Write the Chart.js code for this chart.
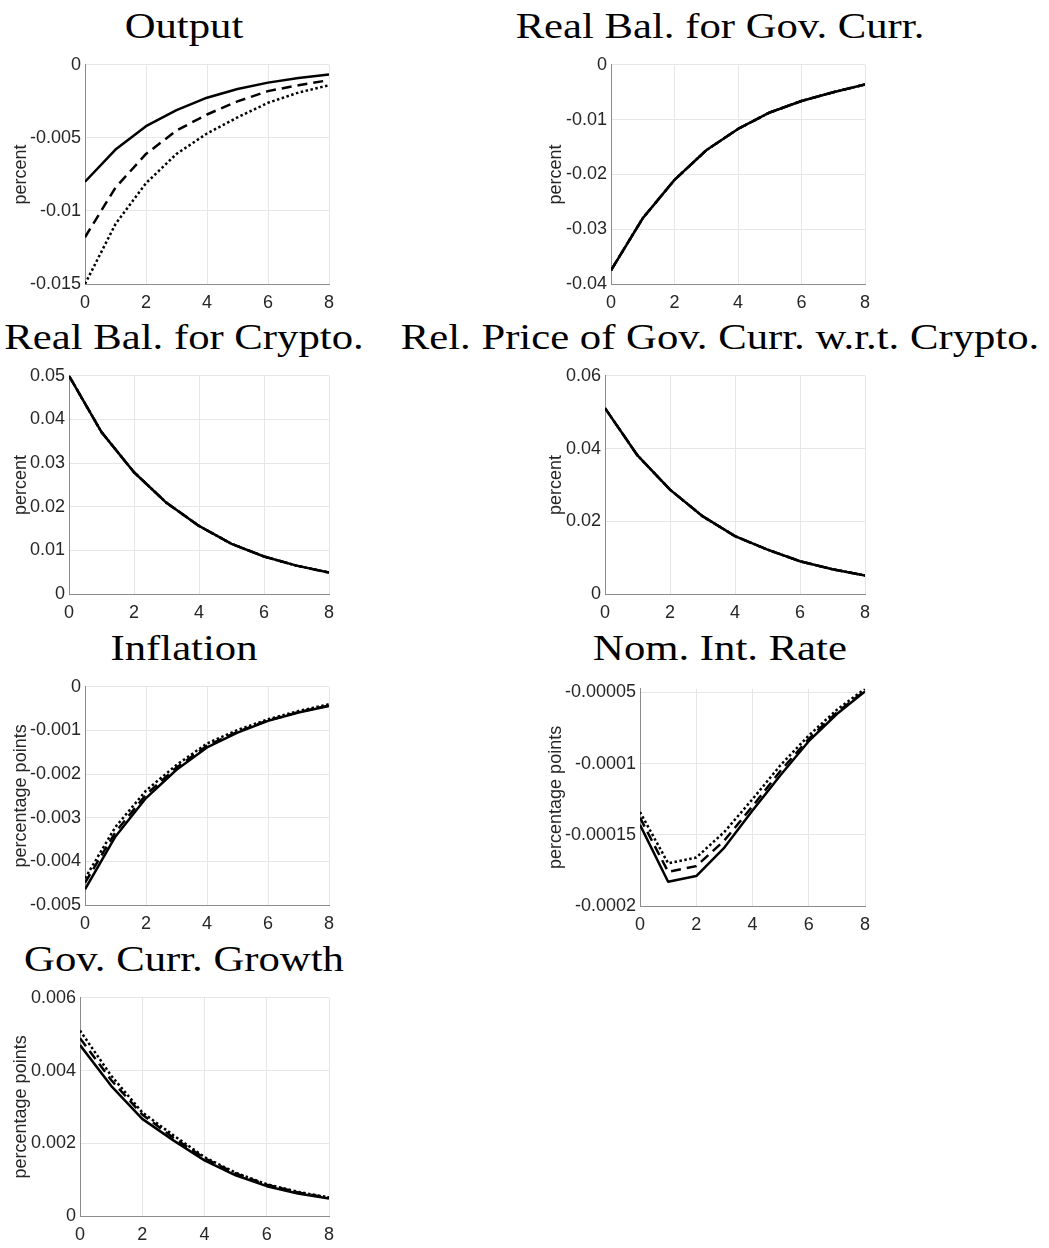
<!DOCTYPE html>
<html>
<head>
<meta charset="utf-8">
<script src="https://cdn.jsdelivr.net/npm/chart.js"></script>
<style>
body { margin: 0; background: #fff; }
#fig { position: relative; width: 1049px; height: 1248px; background: #fff; overflow: hidden; }
.ttl { position: absolute; width: 700px; text-align: center; font-family: 'Liberation Serif', serif;
       font-size: 35px; line-height: 35px; color: #000; white-space: nowrap; transform: scaleX(1.22); }
canvas { position: absolute; }
</style>
</head>
<body>
<div id="fig"></div>
<script>
// periodos despues del choque
var periods = [0, 1, 2, 3, 4, 5, 6, 7, 8];
var xTicks = [0, 2, 4, 6, 8];

// Output
var outputSolid  = [-0.0080, -0.0058, -0.0042, -0.0031, -0.00225, -0.00166, -0.00122, -0.0009, -0.00066];
var outputDashed = [-0.0118, -0.0084, -0.0061, -0.0045, -0.0034, -0.0025, -0.0018, -0.0014, -0.00105];
var outputDotted = [-0.0150, -0.0109, -0.0081, -0.0061, -0.0047, -0.0036, -0.0026, -0.0019, -0.0014];
var outputTicks  = [-0.015, -0.01, -0.005, 0];

// Real Bal. for Gov. Curr. (las tres lineas coinciden)
var realGovSolid  = [-0.0375, -0.0280, -0.0210, -0.0156, -0.0117, -0.0087, -0.0066, -0.0050, -0.0036];
var realGovDashed = [-0.0375, -0.0280, -0.0210, -0.0156, -0.0117, -0.0087, -0.0066, -0.0050, -0.0036];
var realGovDotted = [-0.0375, -0.0280, -0.0210, -0.0156, -0.0117, -0.0087, -0.0066, -0.0050, -0.0036];
var realGovTicks  = [-0.04, -0.03, -0.02, -0.01, 0];

// Real Bal. for Crypto.
var cryptoSolid  = [0.0500, 0.0371, 0.0279, 0.0209, 0.0156, 0.0115, 0.0086, 0.0065, 0.0049];
var cryptoDashed = [0.0500, 0.0371, 0.0279, 0.0209, 0.0156, 0.0115, 0.0086, 0.0065, 0.0049];
var cryptoDotted = [0.0500, 0.0371, 0.0279, 0.0209, 0.0156, 0.0115, 0.0086, 0.0065, 0.0049];
var cryptoTicks  = [0, 0.01, 0.02, 0.03, 0.04, 0.05];

// Rel. Price of Gov. Curr. w.r.t. Crypto.
var relPriceSolid  = [0.0511, 0.0381, 0.0287, 0.0214, 0.0159, 0.0122, 0.0090, 0.0068, 0.0051];
var relPriceDashed = [0.0511, 0.0381, 0.0287, 0.0214, 0.0159, 0.0122, 0.0090, 0.0068, 0.0051];
var relPriceDotted = [0.0511, 0.0381, 0.0287, 0.0214, 0.0159, 0.0122, 0.0090, 0.0068, 0.0051];
var relPriceTicks  = [0, 0.02, 0.04, 0.06];

// Inflation
var inflSolid  = [-0.00464, -0.00343, -0.00255, -0.00190, -0.00139, -0.00105, -0.00078, -0.00059, -0.00044];
var inflDashed = [-0.00449, -0.00333, -0.00247, -0.00185, -0.00135, -0.00103, -0.00077, -0.00058, -0.00043];
var inflDotted = [-0.00439, -0.00321, -0.00238, -0.00179, -0.00130, -0.00099, -0.000745, -0.000555, -0.00040];
var inflTicks  = [-0.005, -0.004, -0.003, -0.002, -0.001, 0];

// Nom. Int. Rate
var nomSolid  = [-0.000143, -0.000183, -0.000179, -0.000159, -0.000133, -0.000108, -0.0000843, -0.0000652, -0.0000493];
var nomDashed = [-0.000138, -0.000176, -0.000172, -0.000154, -0.000130, -0.000105, -0.0000826, -0.0000640, -0.0000488];
var nomDotted = [-0.000134, -0.000170, -0.000166, -0.000148, -0.000125, -0.000101, -0.0000803, -0.0000622, -0.0000475];
var nomTicks  = [-0.0002, -0.00015, -0.0001, -0.00005];
var nomRange  = [-0.0002, -0.0000475];

// Gov. Curr. Growth
var growthSolid  = [0.00470, 0.00358, 0.00267, 0.00208, 0.00153, 0.00112, 0.00082, 0.00062, 0.00048];
var growthDashed = [0.00489, 0.00374, 0.00279, 0.00215, 0.00159, 0.00117, 0.00086, 0.00065, 0.00050];
var growthDotted = [0.00510, 0.00386, 0.00285, 0.00222, 0.00162, 0.00119, 0.000875, 0.000665, 0.00051];
var growthTicks  = [0, 0.002, 0.004, 0.006];

// paneles: titulo, etiqueta, series, ticks, caja del grafico (px)
var panels = [
  {title: 'Output', ylab: 'percent', s: [outputSolid, outputDashed, outputDotted], ticks: outputTicks, col: 0, box: [85, 329, 64, 284]},
  {title: 'Real Bal. for Gov. Curr.', ylab: 'percent', s: [realGovSolid, realGovDashed, realGovDotted], ticks: realGovTicks, col: 1, box: [611, 865, 64, 284]},
  {title: 'Real Bal. for Crypto.', ylab: 'percent', s: [cryptoSolid, cryptoDashed, cryptoDotted], ticks: cryptoTicks, col: 0, box: [69, 329, 375, 594]},
  {title: 'Rel. Price of Gov. Curr. w.r.t. Crypto.', ylab: 'percent', s: [relPriceSolid, relPriceDashed, relPriceDotted], ticks: relPriceTicks, col: 1, box: [605, 865, 375, 594]},
  {title: 'Inflation', ylab: 'percentage points', s: [inflSolid, inflDashed, inflDotted], ticks: inflTicks, col: 0, box: [85, 329, 686, 905]},
  {title: 'Nom. Int. Rate', ylab: 'percentage points', s: [nomSolid, nomDashed, nomDotted], ticks: nomTicks, range: nomRange, col: 1, box: [640, 865, 688, 906]},
  {title: 'Gov. Curr. Growth', ylab: 'percentage points', s: [growthSolid, growthDashed, growthDotted], ticks: growthTicks, col: 0, box: [80, 329, 997, 1216]}
];

var titleBase = [38, 349, 660, 971];
var titleCenter = [184, 720];
var colLeft = [10, 545];
var padTop = 14, padRight = 16, xAxisH = 34;
var fontSize = 18;
var dashes = [[], [10, 6], [2.5, 2.5]];

var fig = document.getElementById('fig');

function fmt(v) {
    return Number(v.toPrecision(6)).toString();
}

panels.forEach(function(p, i) {
    var L = p.box[0], R = p.box[1], T = p.box[2], B = p.box[3];
    var row = Math.floor(i / 2);

    // titulo
    var t = document.createElement('div');
    t.className = 'ttl';
    t.textContent = p.title;
    t.style.left = (titleCenter[p.col] - 350) + 'px';
    t.style.top = (titleBase[row] - 29) + 'px';
    fig.appendChild(t);

    var cv = document.createElement('canvas');
    var left = colLeft[p.col];
    var w = R - left + padRight;
    var h = padTop + (B - T) + xAxisH;
    cv.width = w; cv.height = h;
    cv.style.left = left + 'px';
    cv.style.top = (T - padTop) + 'px';
    cv.style.width = w + 'px';
    cv.style.height = h + 'px';
    fig.appendChild(cv);

    var yMin = p.range ? p.range[0] : p.ticks[0];
    var yMax = p.range ? p.range[1] : p.ticks[p.ticks.length - 1];
    var yW = L - left;

    var datasets = p.s.map(function(vals, k) {
        return {
            data: vals.map(function(v, j) { return {x: periods[j], y: v}; }),
            borderColor: '#000',
            borderWidth: 2.5,
            borderDash: dashes[k],
            pointRadius: 0,
            tension: 0,
            fill: false,
            borderJoinStyle: 'round'
        };
    });

    new Chart(cv.getContext('2d'), {
        type: 'line',
        data: {datasets: datasets},
        options: {
            responsive: false,
            animation: false,
            devicePixelRatio: 1,
            events: [],
            layout: {padding: {top: padTop, right: padRight, left: 0, bottom: 0}},
            plugins: {legend: {display: false}, tooltip: {enabled: false}},
            scales: {
                x: {
                    type: 'linear', min: 0, max: 8,
                    afterBuildTicks: function(s) { s.ticks = xTicks.map(function(v) { return {value: v}; }); },
                    afterFit: function(s) { s.height = xAxisH; },
                    grid: {color: '#e6e6e6', drawTicks: false},
                    border: {display: true, color: '#8c8c8c', width: 1},
                    ticks: {padding: 8, color: '#262626', font: {family: 'Liberation Sans', size: fontSize},
                            maxRotation: 0, callback: function(v) { return fmt(v); }}
                },
                y: {
                    type: 'linear', min: yMin, max: yMax,
                    afterBuildTicks: function(s) { s.ticks = p.ticks.map(function(v) { return {value: v}; }); },
                    afterFit: function(s) { s.width = yW; },
                    grid: {color: '#e6e6e6', drawTicks: false},
                    border: {display: true, color: '#8c8c8c', width: 1},
                    title: {display: true, text: p.ylab, color: '#262626', padding: 0,
                            font: {family: 'Liberation Sans', size: fontSize}},
                    ticks: {padding: 4, color: '#262626', font: {family: 'Liberation Sans', size: fontSize},
                            callback: function(v) { return fmt(v); }}
                }
            }
        }
    });
});
</script>
</body>
</html>
